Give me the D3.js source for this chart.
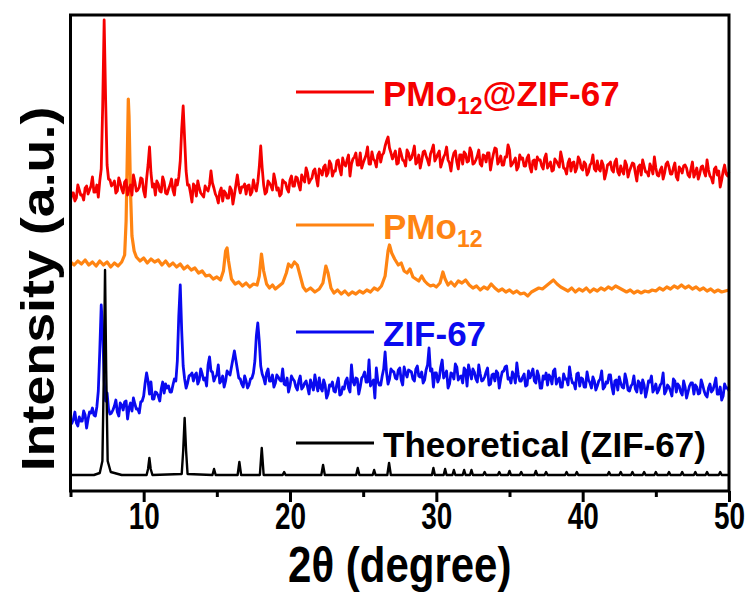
<!DOCTYPE html>
<html>
<head>
<meta charset="utf-8">
<script src="https://cdn.jsdelivr.net/npm/d3@7"></script>
<style>
  body { margin: 0; background: #fff; }
  svg text { font-family: "Liberation Sans", Arial, sans-serif; font-weight: bold; }
</style>
</head>
<body>
<script>
// 2theta (deg) / intensity (a.u., offset stacked)

redPts = [
  [5.0,290],[5.2,298],[5.4,293],[5.6,301],[5.8,296],[6.0,303],[6.2,297],[6.4,305],[6.6,299],[6.8,306],
  [7.0,310],[7.1,322],[7.2,385],[7.3,471],[7.4,392],[7.5,326],[7.6,312],[7.8,305],[8.0,310],[8.2,300],
  [8.4,308],[8.6,298],[8.8,311],[9.0,302],[9.2,296],[9.4,309],[9.6,301],[9.8,313],[10.0,300],[10.2,312],
  [10.3,326],[10.4,344],[10.5,318],[10.6,304],[10.8,296],[11.0,307],[11.2,299],[11.4,309],[11.6,297],[11.8,306],
  [12.0,301],[12.2,311],[12.4,314],[12.5,330],[12.6,362],[12.7,385],[12.8,352],[12.9,320],[13.0,306],[13.2,298],
  [13.4,307],[13.6,295],[13.8,303],[14.0,296],[14.2,305],[14.4,300],[14.6,320],[14.8,303],[15.0,294],[15.2,299],
  [15.4,290],[15.6,298],[15.8,293],[16.0,301],[16.2,296],[16.4,316],[16.6,298],[16.8,304],[17.0,297],[17.2,306],
  [17.4,299],[17.6,304],[17.8,309],[17.9,324],[18.0,345],[18.1,323],[18.2,306],[18.4,299],[18.6,308],[18.8,301],
  [19.0,310],[19.2,303],[19.4,297],[19.6,309],[19.8,302],[20.0,311],[20.2,305],[20.4,314],[20.6,306],[20.8,316],
  [21.0,309],[21.2,318],[21.4,311],[21.6,320],[21.8,313],[22.0,322],[22.2,316],[22.4,326],[22.6,318],[22.8,327],
  [23.0,320],[23.2,330],[23.4,322],[23.6,333],[23.8,325],[24.0,336],[24.2,327],[24.4,334],[24.6,326],[24.8,338],
  [25.0,328],[25.2,336],[25.4,327],[25.6,339],[25.8,330],[26.0,336],[26.2,329],[26.4,338],[26.6,350],[26.7,354],
  [26.8,343],[27.0,332],[27.2,340],[27.4,328],[27.6,337],[27.8,330],[28.0,341],[28.2,331],[28.4,338],[28.6,327],
  [28.8,336],[29.0,330],[29.2,340],[29.4,331],[29.6,337],[29.8,346],[30.0,333],[30.2,340],[30.4,329],[30.6,337],
  [30.8,331],[31.0,320],[31.2,338],[31.4,329],[31.6,336],[31.8,327],[32.0,337],[32.2,330],[32.4,339],[32.6,328],
  [32.8,335],[33.0,327],[33.2,336],[33.4,329],[33.6,338],[33.8,330],[34.0,343],[34.2,327],[34.4,335],[34.6,326],
  [34.8,334],[35.0,341],[35.2,327],[35.4,333],[35.6,324],[35.8,332],[36.0,325],[36.2,333],[36.4,324],[36.6,330],
  [36.8,322],[37.0,331],[37.2,325],[37.4,333],[37.6,323],[37.8,329],[38.0,321],[38.2,330],[38.4,324],[38.6,332],
  [38.8,322],[39.0,328],[39.2,320],[39.4,329],[39.6,323],[39.8,331],[40.0,321],[40.2,327],[40.4,319],[40.6,328],
  [40.8,322],[41.0,330],[41.2,320],[41.4,326],[41.6,318],[41.8,327],[42.0,321],[42.2,329],[42.4,319],[42.6,325],
  [42.8,317],[43.0,326],[43.2,320],[43.4,328],[43.6,318],[43.8,324],[44.0,316],[44.2,325],[44.4,319],[44.6,327],
  [44.8,317],[45.0,323],[45.2,315],[45.4,324],[45.6,318],[45.8,329],[46.0,317],[46.2,323],[46.4,314],[46.6,324],
  [46.8,318],[47.0,326],[47.2,316],[47.4,322],[47.6,314],[47.8,323],[48.0,317],[48.2,325],[48.4,315],[48.6,321],
  [48.8,313],[49.0,322],[49.2,316],[49.4,304],[49.6,320],[49.8,317],[50.0,319]
]

// in-between readings of the red noise band
redFine = [
  [5.1,298],[5.3,290],[5.5,306],[5.7,296],[5.9,291],[6.1,305],[6.3,301],[6.5,314],[6.7,299],[6.9,294],
  [7.7,311],[7.9,307],[8.1,298],[8.3,313],[8.5,302],[8.7,309],[8.9,296],[9.1,306],[9.3,316],[9.5,300],
  [9.7,304],[9.9,312],[10.1,294],[10.7,307],[10.9,310],[11.1,300],[11.3,314],[11.5,298],[11.7,302],[11.9,312],
  [12.1,296],[12.3,306],[13.1,306],[13.3,289],[13.5,305],[13.7,310],[13.9,298],[14.1,294],[14.3,302],[14.5,306],
  [14.7,308],[14.9,297],[15.1,288],[15.3,303],[15.5,300],[15.7,293],[15.9,304],[16.1,287],[16.3,306],[16.5,305],
  [16.7,304],[16.9,307],[17.1,305],[17.3,296],[17.5,311],[17.7,300],[18.3,297],[18.5,310],[18.7,305],[18.9,317],
  [19.1,301],[19.3,295],[19.5,311],[19.7,308],[19.9,299],[20.1,315],[20.3,305],[20.5,313],[20.7,301],[20.9,312],
  [21.1,323],[21.3,308],[21.5,313],[21.7,322],[21.9,305],[22.1,320],[22.3,324],[22.5,315],[22.7,330],[22.9,315],
  [23.1,320],[23.3,331],[23.5,316],[23.7,327],[23.9,331],[24.1,315],[24.3,332],[24.5,338],[24.7,326],[24.9,323],
  [25.1,332],[25.3,344],[25.5,327],[25.7,332],[25.9,324],[26.1,339],[26.3,336],[26.5,345],[26.9,338],[27.1,336],
  [27.3,327],[27.5,342],[27.7,331],[27.9,325],[28.1,338],[28.3,333],[28.5,345],[28.7,329],[28.9,323],[29.1,339],
  [29.3,335],[29.5,326],[29.7,341],[29.9,330],[30.1,337],[30.3,324],[30.5,334],[30.7,344],[30.9,328],[31.1,332],
  [31.3,340],[31.5,322],[31.7,336],[31.9,339],[32.1,329],[32.3,343],[32.5,327],[32.7,331],[32.9,341],[33.1,325],
  [33.3,335],[33.5,338],[33.7,321],[33.9,337],[34.1,342],[34.3,330],[34.5,326],[34.7,334],[34.9,346],[35.1,325],
  [35.3,330],[35.5,321],[35.7,336],[35.9,333],[36.1,325],[36.3,336],[36.5,319],[36.7,331],[36.9,334],[37.1,331],
  [37.3,322],[37.5,337],[37.7,326],[37.9,320],[38.1,332],[38.3,327],[38.5,339],[38.7,323],[38.9,317],[39.1,332],
  [39.3,328],[39.5,319],[39.7,334],[39.9,323],[40.1,329],[40.3,316],[40.5,326],[40.7,336],[40.9,320],[41.1,322],
  [41.3,330],[41.5,312],[41.7,326],[41.9,329],[42.1,319],[42.3,332],[42.5,316],[42.7,320],[42.9,330],[43.1,314],
  [43.3,324],[43.5,327],[43.7,310],[43.9,326],[44.1,331],[44.3,319],[44.5,315],[44.7,323],[44.9,334],[45.1,316],
  [45.3,321],[45.5,312],[45.7,327],[45.9,324],[46.1,317],[46.3,328],[46.5,311],[46.7,322],[46.9,325],[47.1,323],
  [47.3,314],[47.5,329],[47.7,318],[47.9,312],[48.1,324],[48.3,319],[48.5,331],[48.7,315],[48.9,308],[49.1,324],
  [49.3,320],[49.5,311],[49.7,326],[49.9,315]
]

orangePts = [
  [5.0,229],[5.25,226],[5.5,230],[5.75,227],[6.0,231],[6.25,226],[6.5,229],[6.75,225],[7.0,230],[7.25,226],
  [7.5,229],[7.75,224],[8.0,228],[8.25,225],[8.5,229],[8.7,236],[8.8,270],[8.9,350],[8.95,392],[9.0,375],
  [9.1,300],[9.2,255],[9.35,240],[9.5,234],[9.75,230],[10.0,233],[10.25,228],[10.5,232],[10.75,229],[11.0,231],
  [11.25,226],[11.5,230],[11.75,225],[12.0,228],[12.25,224],[12.5,227],[12.75,222],[13.0,225],[13.25,221],[13.5,223],
  [13.75,218],[14.0,220],[14.25,215],[14.5,216],[14.75,212],[15.0,214],[15.25,211],[15.45,220],[15.6,240],[15.7,243],
  [15.8,230],[16.0,212],[16.25,207],[16.5,209],[16.75,205],[17.0,208],[17.25,204],[17.5,207],[17.75,206],[17.9,215],
  [18.05,237],[18.2,220],[18.4,207],[18.6,203],[18.8,206],[19.0,202],[19.25,205],[19.5,208],[19.75,218],[19.9,227],
  [20.1,224],[20.3,229],[20.5,226],[20.7,215],[20.9,204],[21.1,200],[21.4,203],[21.7,199],[22.0,202],[22.25,208],
  [22.45,225],[22.6,218],[22.8,203],[23.0,198],[23.25,201],[23.5,197],[23.75,200],[24.0,196],[24.25,199],[24.5,197],
  [24.75,200],[25.0,198],[25.25,201],[25.5,199],[25.75,203],[26.0,201],[26.25,205],[26.5,215],[26.7,240],[26.8,246],
  [26.95,238],[27.15,232],[27.4,226],[27.6,228],[27.8,220],[28.0,218],[28.2,222],[28.4,214],[28.6,212],[28.8,210],
  [29.0,215],[29.2,210],[29.4,207],[29.6,205],[29.8,206],[30.0,204],[30.25,208],[30.45,219],[30.6,212],[30.8,206],
  [31.0,209],[31.25,205],[31.5,210],[31.75,208],[32.0,211],[32.25,206],[32.5,203],[32.75,205],[33.0,201],[33.25,204],
  [33.5,202],[33.75,207],[34.0,203],[34.25,200],[34.5,202],[34.75,199],[35.0,201],[35.25,198],[35.5,200],[35.75,197],
  [36.0,198],[36.25,195],[36.5,199],[36.75,201],[37.0,203],[37.25,202],[37.5,205],[37.75,208],[38.0,211],[38.25,207],
  [38.5,204],[38.75,202],[39.0,200],[39.25,203],[39.5,199],[39.75,202],[40.0,200],[40.25,203],[40.5,199],[40.75,202],
  [41.0,200],[41.25,203],[41.5,201],[41.75,204],[42.0,202],[42.25,205],[42.5,203],[42.75,201],[43.0,199],[43.25,201],
  [43.5,198],[43.75,200],[44.0,198],[44.25,200],[44.5,199],[44.75,201],[45.0,200],[45.25,203],[45.5,201],[45.75,204],
  [46.0,202],[46.25,205],[46.5,203],[46.75,206],[47.0,203],[47.25,205],[47.5,202],[47.75,204],[48.0,201],[48.25,203],
  [48.5,200],[48.75,202],[49.0,199],[49.25,201],[49.5,199],[49.75,200],[50.0,201]
]

bluePts = [
  [5.0,66],[5.2,72],[5.4,68],[5.6,74],[5.8,70],[6.0,76],[6.2,72],[6.4,78],[6.6,76],[6.8,84],
  [6.9,100],[7.0,140],[7.1,186],[7.2,160],[7.3,110],[7.4,90],[7.6,82],[7.8,78],[8.0,85],[8.2,79],
  [8.4,88],[8.6,81],[8.8,90],[9.0,83],[9.2,80],[9.4,87],[9.6,82],[9.8,89],[10.0,95],[10.1,108],
  [10.2,118],[10.3,110],[10.4,97],[10.6,92],[10.8,99],[11.0,95],[11.2,102],[11.3,109],[11.4,98],[11.6,103],
  [11.8,99],[12.0,106],[12.2,110],[12.3,130],[12.4,175],[12.5,206],[12.6,160],[12.7,125],[12.8,112],[13.0,108],
  [13.2,116],[13.4,110],[13.6,118],[13.8,111],[14.0,117],[14.2,113],[14.4,126],[14.5,134],[14.6,120],[14.8,110],
  [15.0,116],[15.2,108],[15.4,115],[15.6,110],[15.8,118],[16.0,124],[16.2,140],[16.4,122],[16.6,112],[16.8,104],
  [17.0,110],[17.2,106],[17.4,113],[17.6,130],[17.7,155],[17.8,168],[17.9,150],[18.0,125],[18.2,113],[18.4,118],
  [18.6,110],[18.8,116],[19.0,108],[19.2,114],[19.4,110],[19.6,107],[19.8,113],[20.0,105],[20.2,112],[20.4,104],
  [20.6,110],[20.8,102],[21.0,108],[21.2,104],[21.4,111],[21.6,101],[21.8,107],[22.0,113],[22.2,100],[22.4,106],
  [22.6,97],[22.8,105],[23.0,100],[23.2,107],[23.4,96],[23.6,104],[23.8,110],[24.0,103],[24.2,126],[24.4,106],
  [24.6,112],[24.8,104],[25.0,115],[25.2,109],[25.4,131],[25.6,108],[25.8,93],[26.0,110],[26.2,106],[26.4,122],
  [26.5,139],[26.6,118],[26.8,112],[27.0,120],[27.2,113],[27.4,121],[27.6,111],[27.8,124],[28.0,114],[28.2,120],
  [28.4,112],[28.6,122],[28.8,115],[29.0,119],[29.2,111],[29.4,126],[29.5,143],[29.6,120],[29.8,104],[30.0,118],
  [30.2,113],[30.4,131],[30.6,116],[30.8,103],[31.0,118],[31.2,112],[31.4,124],[31.6,114],[31.8,108],[32.0,121],
  [32.2,126],[32.4,112],[32.6,119],[32.8,109],[33.0,117],[33.2,111],[33.4,119],[33.6,106],[33.8,116],[34.0,110],
  [34.2,118],[34.4,112],[34.6,120],[34.8,125],[35.0,113],[35.2,119],[35.4,108],[35.6,116],[35.8,110],[36.0,117],
  [36.2,106],[36.4,113],[36.6,122],[36.8,108],[37.0,115],[37.2,103],[37.4,112],[37.6,106],[37.8,114],[38.0,120],
  [38.2,107],[38.4,113],[38.6,104],[38.8,112],[39.0,106],[39.2,114],[39.4,108],[39.6,117],[39.8,105],[40.0,112],
  [40.2,104],[40.4,111],[40.6,103],[40.8,110],[41.0,105],[41.2,112],[41.4,102],[41.6,109],[41.8,116],[42.0,104],
  [42.2,110],[42.4,101],[42.6,108],[42.8,103],[43.0,111],[43.2,100],[43.4,107],[43.6,102],[43.8,110],[44.0,98],
  [44.2,106],[44.4,101],[44.6,109],[44.8,99],[45.0,107],[45.2,101],[45.4,108],[45.6,97],[45.8,106],[46.0,100],
  [46.2,112],[46.4,99],[46.6,105],[46.8,96],[47.0,104],[47.2,99],[47.4,108],[47.6,97],[47.8,104],[48.0,98],
  [48.2,106],[48.4,96],[48.6,103],[48.8,99],[49.0,106],[49.2,97],[49.4,104],[49.6,95],[49.8,103],[50.0,100]
]

// in-between readings of the blue noise band
blueFine = [
  [5.1,68],[5.3,79],[5.5,65],[5.7,70],[5.9,80],[6.1,63],[6.3,79],[6.5,83],[6.7,75],
  [7.5,98],[7.7,77],[7.9,81],[8.1,91],[8.3,75],[8.5,86],[8.7,89],[8.9,72],[9.1,88],[9.3,93],
  [9.5,82],[9.7,78],[9.9,90],[10.5,109],[10.7,92],[10.9,98],[11.1,90],[11.5,107],[11.7,105],[11.9,99],
  [12.1,112],[12.9,103],[13.1,115],[13.3,118],[13.5,116],[13.7,107],[13.9,122],[14.1,111],[14.3,105],[14.7,119],
  [14.9,114],[15.1,126],[15.3,110],[15.5,104],[15.7,120],[15.9,116],[16.1,132],[16.3,131],[16.5,113],[16.7,107],
  [16.9,115],[17.1,103],[17.3,112],[17.5,118],[18.1,117],[18.3,107],[18.5,122],[18.7,110],[18.9,104],[19.1,116],
  [19.3,111],[19.5,122],[19.7,106],[19.9,99],[20.1,115],[20.3,110],[20.5,101],[20.7,115],[20.9,104],[21.1,110],
  [21.3,97],[21.5,106],[21.7,116],[21.9,100],[22.1,103],[22.3,111],[22.5,93],[22.7,106],[22.9,109],[23.1,99],
  [23.3,113],[23.5,97],[23.7,102],[23.9,113],[24.1,99],[24.3,110],[24.5,113],[24.7,97],[24.9,113],[25.1,119],
  [25.3,109],[25.5,105],[25.7,111],[25.9,123],[26.1,106],[26.3,115],[26.7,107],[26.9,122],[27.1,119],[27.3,112],
  [27.5,123],[27.7,106],[27.9,118],[28.1,121],[28.3,119],[28.5,110],[28.7,125],[28.9,114],[29.1,108],[29.3,121],
  [29.7,122],[29.9,118],[30.1,109],[30.3,124],[30.5,113],[30.7,120],[30.9,107],[31.1,117],[31.3,127],[31.5,111],
  [31.7,115],[31.9,123],[32.1,105],[32.3,119],[32.5,122],[32.7,112],[32.9,126],[33.1,110],[33.3,114],[33.5,123],
  [33.7,107],[33.9,117],[34.1,120],[34.3,103],[34.5,119],[34.7,124],[34.9,112],[35.1,108],[35.3,116],[35.5,128],
  [35.7,110],[35.9,114],[36.1,105],[36.3,120],[36.5,117],[36.7,110],[36.9,120],[37.1,103],[37.3,115],[37.5,118],
  [37.7,116],[37.9,107],[38.1,122],[38.3,111],[38.5,104],[38.7,117],[38.9,112],[39.1,124],[39.3,108],[39.5,102],
  [39.7,118],[39.9,113],[40.1,104],[40.3,119],[40.5,108],[40.7,114],[40.9,101],[41.1,110],[41.3,120],[41.5,104],
  [41.7,108],[41.9,116],[42.1,97],[42.3,111],[42.5,114],[42.7,104],[42.9,117],[43.1,101],[43.3,105],[43.5,115],
  [43.7,99],[43.9,108],[44.1,111],[44.3,94],[44.5,110],[44.7,115],[44.9,102],[45.1,98],[45.3,106],[45.5,118],
  [45.7,100],[45.9,104],[46.1,95],[46.3,110],[46.5,107],[46.7,99],[46.9,110],[47.1,93],[47.3,105],[47.5,108],
  [47.7,106],[47.9,97],[48.1,111],[48.3,100],[48.5,94],[48.7,107],[48.9,101],[49.1,113],[49.3,97],[49.5,91],
  [49.7,107],[49.9,103]
]

// theoretical ZIF-67 pattern (sticks with narrow profiles)
blackPts = [
  [5.0,16],[6.6,16],[7.0,18],[7.18,30],[7.28,120],[7.36,221],[7.44,120],[7.54,30],[7.75,19],[8.5,16],
  [10.2,16],[10.3,22],[10.39,33],[10.48,22],[10.6,16],
  [12.6,17],[12.7,40],[12.8,73],[12.9,40],[13.0,17],
  [14.7,16],[14.81,22],[14.92,16],
  [16.42,16],[16.54,29],[16.66,16],
  [17.94,16],[18.07,43],[18.2,16],
  [19.5,16],[19.6,19],[19.7,16],
  [22.14,16],[22.26,26],[22.38,16],
  [24.52,16],[24.63,23],[24.74,16],
  [25.65,16],[25.75,21],[25.85,16],
  [26.65,16],[26.77,28],[26.89,16],
  [29.7,16],[29.8,23],[29.9,16],
  [30.5,16],[30.6,22],[30.7,16],
  [31.1,16],[31.2,21],[31.3,16],
  [31.8,16],[31.9,21],[32.0,16],
  [32.3,16],[32.4,21],[32.5,16],
  [33.2,16],[33.3,19],[33.4,16],
  [34.2,16],[34.3,19],[34.4,16],
  [34.9,16],[35.0,20],[35.1,16],
  [35.7,16],[35.8,19],[35.9,16],
  [36.7,16],[36.8,20],[36.9,16],
  [37.4,16],[37.5,19],[37.6,16],
  [38.8,16],[38.9,19],[39.0,16],
  [39.5,16],[39.6,19],[39.7,16],
  [41.7,16],[41.8,19],[41.9,16],
  [42.5,16],[42.6,19],[42.7,16],
  [43.3,16],[43.4,19],[43.5,16],
  [44.1,16],[44.2,19],[44.3,16],
  [44.9,16],[45.0,19],[45.1,16],
  [45.8,16],[45.9,19],[46.0,16],
  [46.7,16],[46.8,19],[46.9,16],
  [47.6,16],[47.7,19],[47.8,16],
  [48.4,16],[48.5,19],[48.6,16],
  [49.3,16],[49.4,19],[49.5,16],[50.0,16]
]

legendNames = ['PMo12@ZIF-67', 'PMo12', 'ZIF-67', 'Theoretical (ZIF-67)']
xTicks = [10, 20, 30, 40, 50]
xMinorTicks = [5, 15, 25, 35, 45]

function byX(a, b){
	return a[0] - b[0]
}

function main(){
	const w = 752
	const h = 597
	const padL = 70.5
	const padR = 729
	const padT = 15
	const padB = 491

	const svg = d3.select('body')
					.append('svg')
					.attr('width', w)
					.attr('height', h)

	const xScale = d3.scaleLinear()
						 .domain([5, 50])
						 .range([padL, padR])

	const yScale = d3.scaleLinear()
						 .domain([0, 476])
						 .range([padB, padT])

	const line = d3.line()
					 .x(d => xScale(d[0]))
					 .y(d => yScale(d[1]))

	const series = [
		{ pts: orangePts, color: '#ff8412', width: 3.2 },
		{ pts: redPts.concat(redFine).sort(byX),   color: '#f50000', width: 2.8 },
		{ pts: bluePts.concat(blueFine).sort(byX), color: '#0a0af0', width: 2.8 },
		{ pts: blackPts,  color: '#000000', width: 2.4 }
	]

	series.forEach(s => {
		svg.append('path')
			 .datum(s.pts)
			 .attr('d', line)
			 .attr('fill', 'none')
			 .attr('stroke', s.color)
			 .attr('stroke-width', s.width)
			 .attr('stroke-linejoin', 'round')
	})

	// Axis
	const xAxis = d3.axisBottom(xScale)
						.tickValues(xTicks)
						.tickSize(11)
						.tickFormat(d3.format('d'))

	const xMinor = d3.axisBottom(xScale)
						 .tickValues(xMinorTicks)
						 .tickSize(6)
						 .tickFormat('')

	const gx = svg.append('g')
		 .attr('transform', `translate(0, ${padB})`)
		 .call(xAxis)
	gx.select('.domain').remove()
	gx.selectAll('line').attr('stroke', '#000').attr('stroke-width', 3)
	// labels in the picture are tall and narrow
	gx.selectAll('text')
		.attr('fill', '#000')
		.attr('y', 31)
		.attr('dy', null)
		.attr('transform', 'scale(0.9, 1.22)')
		.style('font-size', '31px')

	const gm = svg.append('g')
		 .attr('transform', `translate(0, ${padB})`)
		 .call(xMinor)
	gm.select('.domain').remove()
	gm.selectAll('line').attr('stroke', '#000').attr('stroke-width', 3)

	// frame
	svg.append('rect')
		 .attr('x', padL)
		 .attr('y', padT)
		 .attr('width', padR - padL)
		 .attr('height', padB - padT)
		 .attr('fill', 'none')
		 .attr('stroke', '#000')
		 .attr('stroke-width', 3)

	// axis titles
	svg.append('text')
		 .attr('transform', `translate(${(padL + padR) / 2}, 582) scale(1, 1.2)`)
		 .attr('text-anchor', 'middle')
		 .style('font-size', '42px')
		 .text('2θ (degree)')

	svg.append('text')
		 .attr('transform', `translate(54, 289) rotate(-90) scale(1.17, 1)`)
		 .attr('text-anchor', 'middle')
		 .style('font-size', '46px')
		 .text('Intensity (a.u.)')

	// legend
	const legendY = [92, 225, 332, 443]
	const legendColors = ['#f50000', '#ff8412', '#0a0af0', '#000000']

	legendNames.forEach((name, i) => {
		svg.append('line')
			 .attr('x1', 296).attr('x2', 374)
			 .attr('y1', legendY[i]).attr('y2', legendY[i])
			 .attr('stroke', legendColors[i])
			 .attr('stroke-width', 3)

		const t = svg.append('text')
			 .attr('x', 383)
			 .attr('y', legendY[i] + 14)
			 .attr('fill', legendColors[i])
			 .style('font-size', '35px')

		const m = name.match(/^(PMo)12(.*)$/)
		if (m) {
			t.append('tspan').text(m[1])
			t.append('tspan').attr('dy', 8).style('font-size', '23px').text('12')
			if (m[2]) t.append('tspan').attr('dy', -8).text(m[2])
		} else {
			t.text(name)
		}
	})
}

main()
</script>
</body>
</html>
